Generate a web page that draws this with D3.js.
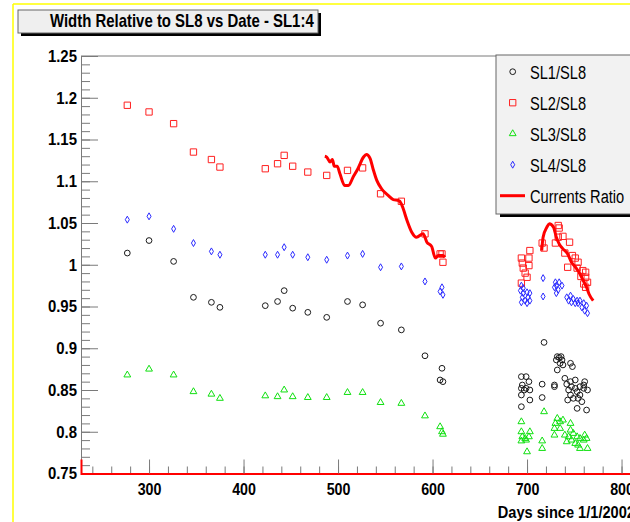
<!DOCTYPE html>
<html>
<head>
<meta charset="utf-8">
<script src="https://cdn.jsdelivr.net/npm/d3@7"></script>
<style>
  body { margin: 0; background: #fff; }
  svg { display: block; font-family: "Liberation Sans", Arial, Helvetica, sans-serif; }
</style>
</head>
<body>
<svg id="chart" width="630" height="522"></svg>
<script>
// ---- data ----
const title = "Width Relative to SL8 vs Date - SL1:4";
const xTitle = "Days since 1/1/2002";
const xTicks = [300, 400, 500, 600, 700, 800];
const yTicks = [0.75, 0.8, 0.85, 0.9, 0.95, 1, 1.05, 1.1, 1.15, 1.2, 1.25];
const legendLabels = ["SL1/SL8", "SL2/SL8", "SL3/SL8", "SL4/SL8", "Currents Ratio"];

// first period, same dates for the four ratios
const earlyDays = [277, 300, 326, 347, 366, 375, 423, 436, 443, 452, 468, 488, 510, 526, 545, 567, 592, 608, 610, 611];
const sl1Early = [1.014, 1.029, 1.004, 0.961, 0.955, 0.949, 0.951, 0.956, 0.969, 0.948, 0.943, 0.937, 0.956, 0.952, 0.930, 0.922, 0.891, 0.862, 0.876, 0.860];
const sl2Early = [1.191, 1.183, 1.169, 1.135, 1.126, 1.117, 1.115, 1.121, 1.131, 1.118, 1.111, 1.107, 1.113, 1.116, 1.085, 1.076, 1.037, 1.013, 1.013, 1.003];
const sl3Early = [0.868, 0.875, 0.868, 0.848, 0.845, 0.840, 0.843, 0.842, 0.850, 0.842, 0.841, 0.841, 0.847, 0.847, 0.835, 0.834, 0.819, 0.806, 0.800, 0.797];
const sl4Early = [1.054, 1.058, 1.043, 1.026, 1.016, 1.012, 1.012, 1.012, 1.021, 1.012, 1.009, 1.006, 1.011, 1.013, 0.997, 0.998, 0.980, 0.968, 0.973, 0.964];

// second period, dense clusters
const sl1LateDays = [718, 732, 734, 736, 737, 731, 735, 732, 738, 746, 748, 694, 699, 702, 695, 699, 694, 703, 697, 694, 703, 694, 716, 716, 729, 729, 740, 742, 746, 751, 747, 744, 751, 753, 746, 756, 749, 754, 743, 758, 753, 763, 761, 760, 764, 760, 756];
const sl1Late = [0.907, 0.890, 0.889, 0.890, 0.886, 0.886, 0.882, 0.874, 0.880, 0.882, 0.878, 0.866, 0.866, 0.860, 0.856, 0.852, 0.852, 0.850, 0.850, 0.844, 0.838, 0.830, 0.857, 0.841, 0.856, 0.854, 0.864, 0.857, 0.860, 0.862, 0.854, 0.850, 0.852, 0.848, 0.844, 0.844, 0.840, 0.840, 0.838, 0.836, 0.828, 0.826, 0.860, 0.856, 0.850, 0.852, 0.854];

const sl2LateDays = [694, 695, 696, 698, 703, 702, 702, 700, 694, 716, 718, 733, 734, 733, 738, 730, 745, 740, 748, 751, 743, 754, 753, 759, 762, 757, 762, 764, 760, 762];
const sl2Late = [1.008, 1.002, 0.996, 0.990, 1.017, 1.008, 0.999, 0.985, 0.978, 1.026, 1.020, 1.047, 1.044, 1.033, 1.034, 1.026, 1.027, 1.014, 1.011, 1.008, 0.997, 1.003, 0.996, 0.993, 0.991, 0.986, 0.985, 0.979, 0.977, 0.973];

const sl3LateDays = [718, 694, 694, 695, 698, 703, 702, 699, 694, 700, 716, 716, 730, 732, 735, 738, 729, 735, 729, 746, 746, 749, 744, 753, 747, 756, 742, 751, 754, 761, 763, 760, 756, 764, 740];
const sl3Late = [0.824, 0.812, 0.800, 0.794, 0.792, 0.800, 0.794, 0.790, 0.789, 0.776, 0.789, 0.780, 0.810, 0.816, 0.812, 0.814, 0.804, 0.804, 0.796, 0.810, 0.802, 0.798, 0.794, 0.794, 0.790, 0.792, 0.788, 0.786, 0.784, 0.796, 0.792, 0.790, 0.780, 0.780, 0.796];

const sl4LateDays = [694, 693, 696, 700, 695, 701, 698, 703, 694, 700, 703, 696, 717, 717, 730, 731, 734, 729, 733, 731, 737, 742, 746, 744, 749, 753, 747, 756, 760, 763, 754, 761, 764, 751, 758];
const sl4Late = [0.975, 0.969, 0.966, 0.967, 0.961, 0.961, 0.957, 0.957, 0.955, 0.954, 0.966, 0.972, 0.984, 0.962, 0.979, 0.975, 0.979, 0.973, 0.970, 0.966, 0.975, 0.961, 0.963, 0.957, 0.959, 0.957, 0.955, 0.957, 0.954, 0.951, 0.954, 0.945, 0.942, 0.954, 0.949];

// currents ratio, two stretches
const currDaysA = [486, 488, 491.5, 494, 496, 499, 502, 507, 511, 516, 521, 527, 530, 534, 537, 541, 546, 553, 558.5, 564, 567, 569, 573, 578, 583, 590, 594, 599, 603, 606, 611, 613];
const currA = [1.130, 1.129, 1.123, 1.126, 1.118, 1.118, 1.109, 1.095, 1.095, 1.105, 1.115, 1.129, 1.132, 1.127, 1.115, 1.101, 1.091, 1.083, 1.078, 1.077, 1.073, 1.067, 1.053, 1.039, 1.033, 1.037, 1.027, 1.022, 1.008, 1.011, 1.011, 1.009];
const currDaysB = [715.5, 717, 721, 723.6, 728, 731, 734, 738, 743, 747, 752, 756, 759.5, 763, 765.6, 770];
const currB = [1.017, 1.033, 1.045, 1.049, 1.045, 1.033, 1.025, 1.019, 1.013, 1.003, 0.996, 0.989, 0.981, 0.973, 0.965, 0.957];

// ---- layout ----
const svg = d3.select("#chart");
const frame = { left: 81, right: 639.5, top: 56, bottom: 473.5 };

const x = d3.scaleLinear().domain([228, 819]).range([frame.left, frame.right]);
const y = d3.scaleLinear().domain([0.75, 1.25]).range([frame.bottom, frame.top]);

// horizontally squeeze text around its anchor (the original font is narrow)
function squeeze(sel, sx) {
  sel.each(function () {
    const t = d3.select(this);
    const tx = +t.attr("x") || 0, ty = +t.attr("y") || 0;
    t.attr("transform", `translate(${tx},${ty}) scale(${sx},1) translate(${-tx},${-ty})`);
  });
}

// yellow pad border
svg.append("line").attr("x1", 13).attr("x2", 13).attr("y1", 4).attr("y2", 522)
  .attr("stroke", "#ffff00").attr("stroke-width", 1.5);
svg.append("line").attr("x1", 13).attr("x2", 630).attr("y1", 4).attr("y2", 4)
  .attr("stroke", "#ffff00").attr("stroke-width", 1.5);

// frame top line
svg.append("line").attr("x1", frame.left).attr("x2", frame.right)
  .attr("y1", frame.top).attr("y2", frame.top).attr("stroke", "#7a7a7a");

// Y axis
const yMinor = d3.range(0.75, 1.2501, 0.01);
svg.append("g")
  .attr("transform", `translate(${frame.left},0)`)
  .call(d3.axisLeft(y).tickValues(yMinor).tickSize(-9).tickFormat(""))
  .call(g => g.select(".domain").remove())
  .selectAll("line").attr("stroke", "#7a7a7a");

const yAxis = svg.append("g")
  .attr("transform", `translate(${frame.left},0)`)
  .call(d3.axisLeft(y).tickValues(yTicks).tickSize(-17).tickPadding(4).tickFormat(d3.format(".2~f")));
yAxis.select(".domain").attr("stroke", "#7a7a7a");
yAxis.selectAll("line").attr("stroke", "#7a7a7a");
yAxis.selectAll("text")
  .attr("fill", "#000")
  .style("font-size", "17px")
  .style("font-weight", "bold")
  .call(squeeze, 0.88);

// X axis
const xMinor = d3.range(240, 820, 20);
svg.append("g")
  .attr("transform", `translate(0,${frame.bottom})`)
  .call(d3.axisBottom(x).tickValues(xMinor).tickSize(-7).tickFormat(""))
  .call(g => g.select(".domain").remove())
  .selectAll("line").attr("stroke", "#7a7a7a");

const xAxis = svg.append("g")
  .attr("transform", `translate(0,${frame.bottom})`)
  .call(d3.axisBottom(x).tickValues(xTicks).tickSize(-14).tickPadding(9).tickFormat(d3.format("d")));
xAxis.select(".domain").attr("stroke", "#ff0000").attr("stroke-width", 2);
xAxis.selectAll("line").attr("stroke", "#7a7a7a");
xAxis.selectAll("text")
  .attr("fill", "#000")
  .style("font-size", "17px")
  .style("font-weight", "bold")
  .call(squeeze, 0.84);

svg.append("text")
  .attr("x", 635)
  .attr("y", 518)
  .attr("text-anchor", "end")
  .style("font-size", "17px")
  .style("font-weight", "bold")
  .text(xTitle)
  .call(squeeze, 0.86);

// ---- marks ----
svg.append("clipPath").attr("id", "plotClip")
  .append("rect")
  .attr("x", frame.left).attr("y", frame.top)
  .attr("width", frame.right - frame.left).attr("height", frame.bottom - frame.top);

const plot = svg.append("g").attr("clip-path", "url(#plotClip)");

const series = [
  { days: earlyDays.concat(sl1LateDays), vals: sl1Early.concat(sl1Late), symbol: d3.symbolCircle, size: 26, color: "#1a1a1a" },
  { days: earlyDays.concat(sl2LateDays), vals: sl2Early.concat(sl2Late), symbol: d3.symbolSquare, size: 40, color: "#ff2020" },
  { days: earlyDays.concat(sl3LateDays), vals: sl3Early.concat(sl3Late), symbol: d3.symbolTriangle, size: 20, color: "#10e010" },
  { days: earlyDays.concat(sl4LateDays), vals: sl4Early.concat(sl4Late), symbol: d3.symbolDiamond, size: 14, color: "#2a2aff" }
];

series.forEach(s => {
  const pts = s.days.map((d, i) => ({ d, v: s.vals[i] }));
  plot.append("g")
    .selectAll("path")
    .data(pts)
    .join("path")
    .attr("transform", p => `translate(${x(p.d)},${y(p.v)})`)
    .attr("d", d3.symbol(s.symbol, s.size))
    .attr("fill", "none")
    .attr("stroke", s.color)
    .attr("stroke-width", 1);
});

const line = d3.line()
  .x(p => x(p.d))
  .y(p => y(p.v))
  .curve(d3.curveMonotoneX);

[[currDaysA, currA], [currDaysB, currB]].forEach(([days, vals]) => {
  plot.append("path")
    .datum(days.map((d, i) => ({ d, v: vals[i] })))
    .attr("d", line)
    .attr("fill", "none")
    .attr("stroke", "#ff0000")
    .attr("stroke-width", 3)
    .attr("stroke-linejoin", "round");
});

// ---- title box ----
svg.append("rect").attr("x", 21).attr("y", 13).attr("width", 300).attr("height", 23).attr("fill", "#000");
svg.append("rect").attr("x", 18).attr("y", 10).attr("width", 300).attr("height", 23)
  .attr("fill", "#efefef").attr("stroke", "#666").attr("stroke-width", 1);
svg.append("text")
  .attr("x", 50).attr("y", 27.5)
  .style("font-size", "18px")
  .style("font-weight", "bold")
  .text(title)
  .call(squeeze, 0.83);

// ---- legend ----
const legend = svg.append("g");
legend.append("rect").attr("x", 500).attr("y", 59).attr("width", 150).attr("height", 158).attr("fill", "#000");
legend.append("rect").attr("x", 496).attr("y", 55).attr("width", 150).attr("height", 159)
  .attr("fill", "#f2f2f2").attr("stroke", "#666").attr("stroke-width", 1);

legendLabels.forEach((label, i) => {
  const cy = 71.7 + i * 31;
  const row = legend.append("g");
  if (i < 4) {
    const s = series[i];
    row.append("path")
      .attr("transform", `translate(512.7,${cy})`)
      .attr("d", d3.symbol(s.symbol, s.size))
      .attr("fill", "none")
      .attr("stroke", s.color);
  } else {
    row.append("line")
      .attr("x1", 500).attr("x2", 525)
      .attr("y1", cy).attr("y2", cy)
      .attr("stroke", "#ff0000").attr("stroke-width", 3);
  }
  row.append("text")
    .attr("x", 530).attr("y", cy + 7)
    .style("font-size", "19px")
    .text(label)
    .call(squeeze, 0.77);
});
</script>
</body>
</html>
